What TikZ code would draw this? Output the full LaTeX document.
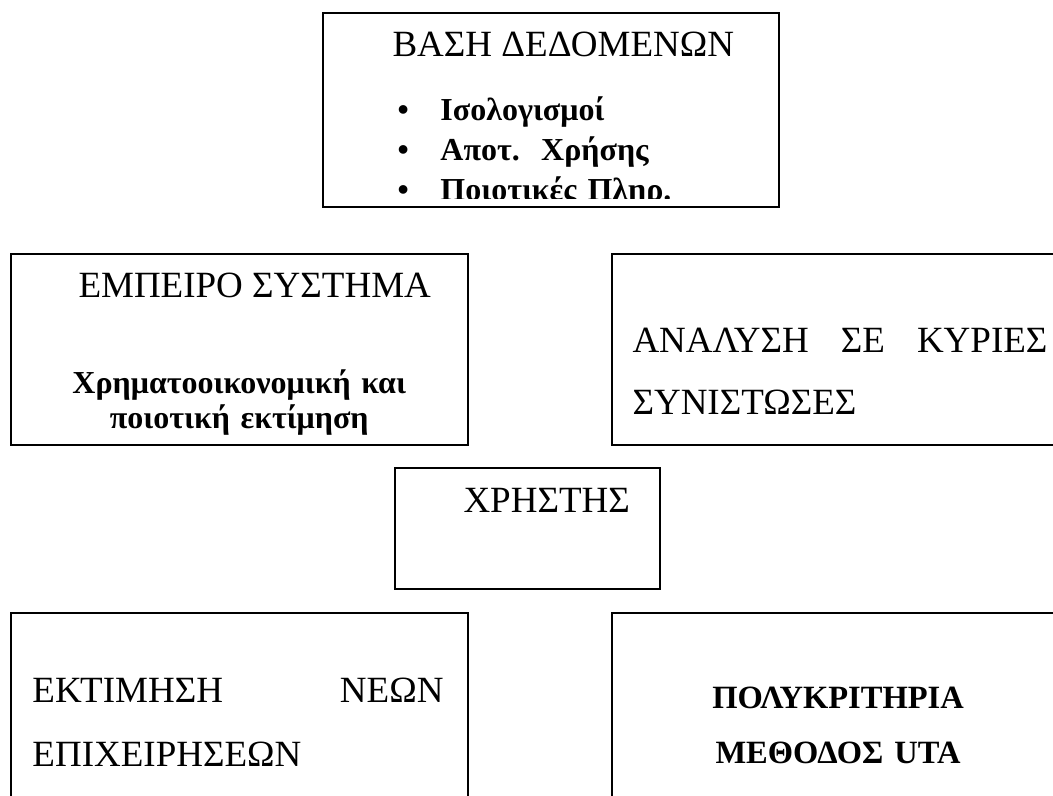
\documentclass[tikz,border=0pt]{standalone}
\usepackage{fontspec}
\setmainfont{Liberation Serif}
\usetikzlibrary{positioning,calc}

\begin{document}
\begin{tikzpicture}[x=0.4pt,y=-0.4pt]
\tikzset{
     box/.style={draw, line width=0.6pt, rectangle, anchor=north west, inner sep=0pt},
     bigbox/.style={box, minimum width=182.8pt, minimum height=76.4pt},
     title/.style={font=\fontsize{14.8}{24.8}\selectfont, inner sep=0pt},
     strong/.style={font=\fontsize{12.8}{14}\selectfont\bfseries, inner sep=0pt}}
\newcommand{\itm}{\makebox[17.2pt][l]{\textbullet}}

\clip (0,0) rectangle (1053,795);

% The boxes
\node (dbbox)     at (322,12)  [box, minimum width=182.4pt, minimum height=77.6pt] {};
\node (expertbox) at (10,253)  [bigbox] {};
\node (pcabox)    at (611,253) [bigbox] {};
\node (userbox)   at (394,467) [box, minimum width=106pt, minimum height=48.4pt] {};
\node (firmsbox)  at (10,612)  [bigbox] {};
\node (utabox)    at (611,612) [bigbox] {};

% The labels
\node (dbtitle) at (392,56) [title, anchor=base west] {ΒΑΣΗ ΔΕΔΟΜΕΝΩΝ};
\begin{scope}
\clip (dbbox.north west) rectangle ([yshift=3.6pt]dbbox.south east);
\node (dblist) at (397,120) [strong, anchor=base west, text width=160pt, align=left,
  font=\fontsize{12.8}{16}\selectfont\bfseries]
  {\itm Ισολογισμοί\\ \itm Αποτ.\ \ Χρήσης\\ \itm Ποιοτικές Πληρ.};
\end{scope}

\node (experttitle) at (78,297) [title, anchor=base west] {ΕΜΠΕΙΡΟ ΣΥΣΤΗΜΑ};
\node (expertnote) at ($(expertbox.north west)!0.5!(expertbox.north east)$)
  [strong, anchor=base, text width=182.8pt, align=center, yshift=-56pt]
  {Χρηματοοικονομική και\\ποιοτική εκτίμηση};

\node (pcatext) at (632,352) [title, anchor=base west, text width=166pt, align=left]
  {ΑΝΑΛΥΣΗ\hfill ΣΕ\hfill ΚΥΡΙΕΣ\\ΣΥΝΙΣΤΩΣΕΣ};

\node (usertitle) at (463,512) [title, anchor=base west] {ΧΡΗΣΤΗΣ};

\node (firmstext) at (32,702) [title, anchor=base west, text width=164.4pt, align=left,
  font=\fontsize{14.8}{25.6}\selectfont]
  {ΕΚΤΙΜΗΣΗ\hfill ΝΕΩΝ\\ΕΠΙΧΕΙΡΗΣΕΩΝ};

\node (utatext) at (838,708) [strong, anchor=base, text width=182.8pt, align=center,
  font=\fontsize{13}{22}\selectfont\bfseries]
  {ΠΟΛΥΚΡΙΤΗΡΙΑ\\ΜΕΘΟΔΟΣ UTA};
\end{tikzpicture}
\end{document}
